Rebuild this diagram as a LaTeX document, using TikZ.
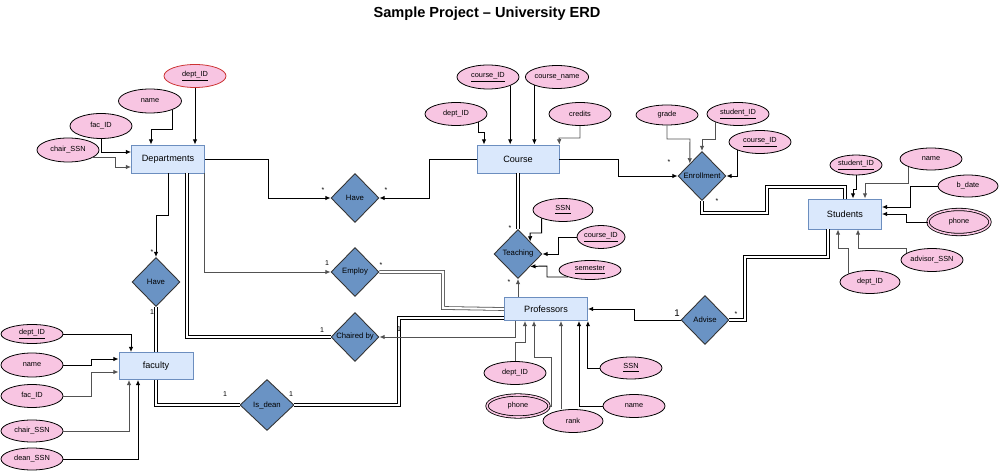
\documentclass[tikz,border=0pt]{standalone}
\usepackage{fontspec}
\setmainfont{Liberation Sans}
\usetikzlibrary{shapes.geometric,arrows.meta}
\definecolor{entfill}{HTML}{DAE8FC}
\definecolor{entline}{HTML}{6C8EBF}
\definecolor{relfill}{HTML}{6A93C4}
\definecolor{attfill}{HTML}{F8C5E2}
\definecolor{keyred}{HTML}{CC3333}
\tikzset{
  ent/.style={rectangle,draw=entline,fill=entfill,line width=0.5pt,inner sep=0pt,
    minimum width=1.46cm,minimum height=0.56cm,font=\fontsize{5.2}{6}\selectfont},
  rel/.style={diamond,draw=black!80,fill=relfill,line width=0.5pt,inner sep=0pt,
    minimum width=0.96cm,minimum height=0.98cm,font=\fontsize{4.4}{5}\selectfont},
  att/.style={ellipse,draw=black,fill=attfill,line width=0.45pt,inner sep=0pt,
    minimum width=1.24cm,minimum height=0.46cm,font=\fontsize{4.2}{5}\selectfont},
  multi/.style={att,double=attfill,double distance=0.9pt},
  arr/.style={-{Latex[length=3pt,width=2.6pt]},line width=0.55pt},
  gry/.style={draw=black!68},
  dbl/.style={double,double distance=1.2pt,line width=0.45pt},
  mult/.style={inner sep=0pt,font=\fontsize{4}{5}\selectfont}
}
\begin{document}
\begin{tikzpicture}[x=0.02cm,y=-0.02cm]
\useasboundingbox (0,0) rectangle (1000,472);
\node[font=\fontsize{8.3}{10}\selectfont\bfseries] (title) at (487,14) {Sample Project – University ERD};

\node[ent] (dep) at (168,159) {Departments};
\node[ent,minimum width=1.64cm] (course) at (518,159) {Course};
\node[ent,minimum height=0.6cm] (stud) at (845,214) {Students};
\node[ent,minimum width=1.66cm,minimum height=0.46cm] (prof) at (546,309) {Professors};
\node[ent,minimum width=1.48cm,minimum height=0.54cm] (fac) at (156,366) {faculty};

\node[rel] (haveA) at (355,198) {Have};
\node[rel] (employ) at (355,272) {Employ};
\node[rel] (chair) at (355,337) {Chaired by};
\node[rel] (haveB) at (156,282) {Have};
\node[rel,minimum width=1.08cm,minimum height=1.02cm] (isdean) at (267,405) {Is\_dean};
\node[rel] (teach) at (518,254) {Teaching};
\node[rel] (enroll) at (702,176) {Enrollment};
\node[rel] (advise) at (705,320) {Advise};

\node[att,draw=keyred] (depID) at (195,76) {\underline{dept\_ID}};
\node[att,minimum width=1.26cm,minimum height=0.48cm] (depName) at (150,101) {name};
\node[att,minimum height=0.5cm] (depFac) at (101,126) {fac\_ID};
\node[att,minimum height=0.48cm] (depChair) at (68,150) {chair\_SSN};
\node[att,minimum height=0.48cm] (crsID) at (488,77) {\underline{course\_ID}};
\node[att] (crsName) at (557,77) {course\_name};
\node[att] (crsDept) at (456,114) {dept\_ID};
\node[att] (crsCred) at (580,114) {credits};
\node[att,minimum height=0.4cm] (enGrade) at (667,115) {grade};
\node[att] (enStud) at (738,114) {\underline{student\_ID}};
\node[att] (enCrs) at (760,142) {\underline{course\_ID}};
\node[att,minimum width=1.04cm,minimum height=0.4cm] (stID) at (856,165) {\underline{student\_ID}};
\node[att,minimum height=0.44cm] (stName) at (931,159) {name};
\node[att,minimum width=1.2cm,minimum height=0.44cm] (stDate) at (968,186) {b\_date};
\node[multi,minimum height=0.5cm] (stPhone) at (959,222) {phone};
\node[att] (stAdv) at (932,260) {advisor\_SSN};
\node[att,minimum width=1.2cm] (stDept) at (870,282) {dept\_ID};
\node[att,minimum width=1.2cm] (tSSN) at (563,210) {\underline{SSN}};
\node[att,minimum width=0.96cm] (tCrs) at (601,237) {\underline{course\_ID}};
\node[att,minimum height=0.38cm] (tSem) at (590,270) {\underline{semester}};
\node[att] (pDept) at (515,373) {dept\_ID};
\node[multi,minimum height=0.44cm] (pPhone) at (518,406) {phone};
\node[att,minimum width=1.2cm] (pRank) at (573,421) {rank};
\node[att,minimum height=0.44cm] (pSSN) at (631,368) {\underline{SSN}};
\node[att] (pName) at (634,406) {name};
\node[att,minimum height=0.38cm] (fDept) at (32,334) {\underline{dept\_ID}};
\node[att,minimum height=0.48cm] (fName) at (32,365) {name};
\node[att] (fFac) at (32,396) {fac\_ID};
\node[att,minimum height=0.44cm] (fChair) at (32,431) {chair\_SSN};
\node[att,minimum height=0.44cm] (fDean) at (32,459) {dean\_SSN};

\draw[arr] (depID.south) -- (depID.south |- dep.north);
\draw[arr] (depName.south east) |- (151,129) -- (151,0 |- dep.north);
\draw[arr] (depFac.south) |- (dep.west |- 0,152);
\draw[arr,gry] (depChair.-18) -| (115,167) -- (dep.west |- 0,167);

\draw[arr] (crsID.south east) -- (crsID.south east |- course.north);
\draw[arr] (crsName.south west) -- (crsName.south west |- course.north);
\draw[arr] (crsDept.south east) |- (484,132) -- (484,0 |- course.north);
\draw[arr,gry] (crsCred.south) |- (559,138) -- (course.north east);

\draw[arr,gry] (enGrade.south) |- (690,139) -- (enroll.north west);
\draw[arr,gry] (enStud.south west) |- (702,139) -- (enroll.north);
\draw[arr] (enCrs.south west) |- (enroll.east);
\draw[arr] (course.east) -| (618,176) -- (enroll.west);
\draw[dbl] (enroll.south) |- (767,213) -- (767,187) -| (stud.north);

\draw[arr] (stID.south) |- (853,189) -- (853,0 |- stud.north);
\draw[arr,gry] (stName.south west) |- (865,183) -- (865,0 |- stud.north);
\draw[arr] (stDate.west) -| (910,207) -- (stud.east |- 0,207);
\draw[arr] (stPhone.west) -| (906,214) -- (stud.east);
\draw[arr,gry] (stAdv.165) |- (858,248) -- (858,0 |- stud.south);
\draw[arr,gry] (stDept.north west) |- (838,248) -- (838,0 |- stud.south);

\draw[dbl] (stud.south -| 828,0) |- (745,257) |- (advise.east);
\draw[arr] (advise.west) -| (634,309) -- (prof.east);

\draw[arr,gry] (pDept.north) |- (525,342) -- (525,0 |- prof.south);
\draw[arr,gry] (pPhone.east) -| (551,357) -| (534,0 |- prof.south);
\draw[arr,gry] (pRank.north -| 561,0) -- (561,0 |- prof.south);
\draw[arr] (pSSN.west) -| (prof.south east);
\draw[arr] (pName.west) -| (579,0 |- prof.south);

\draw[dbl] (course.south) -- (teach.north);
\draw[arr,gry] (teach.south |- prof.north) -- (teach.south);
\draw[arr] (tSSN.south west) |- (530,233) -- (teach.north east);
\draw[arr] (tCrs.west) -| (558,254) -- (teach.east);
\draw[arr] (tSem.south west) -| (547,266) -- (teach.south east);

\draw[arr] (fDept.east) -| (131,0 |- fac.north);
\draw[arr] (fName.east) -| (91,359) -- (fac.west |- 0,359);
\draw[arr,gry] (fFac.east) -| (91,372) -- (fac.west |- 0,372);
\draw[arr,gry] (fChair.east) -| (129,0 |- fac.south);
\draw[arr] (fDean.east) -| (138,0 |- fac.south);

\draw[arr] (dep.east) -| (268,198) -- (haveA.west);
\draw[arr] (course.west) -| (429,198) -- (haveA.east);
\draw[arr] (dep.south) |- (156,215) -- (haveB.north);
\draw[dbl] (haveB.south) -- (fac.north);
\draw[dbl] (fac.south) |- (isdean.west);
\draw[dbl] (isdean.east) -| (399,318) -- (prof.west |- 0,318);
\draw[dbl] (dep.south -| 187,0) |- (chair.west);
\draw[arr,gry] (prof.south -| 515,0) |- (chair.east);
\draw[arr,gry] (dep.south east) |- (employ.west);
\draw[dbl,gry] (employ.east) -| (443,308) -- (prof.west);

\node[mult] at (323,190) {*};
\node[mult] at (386,190) {*};
\node[mult] at (152,252) {*};
\node[mult] at (152,312) {1};
\node[mult] at (225,394) {1};
\node[mult] at (291,394) {1};
\node[mult] at (322,330) {1};
\node[mult] at (399,329) {1};
\node[mult] at (327,263) {1};
\node[mult] at (381,265) {*};
\node[mult] at (510,228) {*};
\node[mult] at (509,282) {*};
\node[mult] at (669,162) {*};
\node[mult] at (717,201) {*};
\node[mult] at (736,314) {*};
\node[mult,font=\fontsize{5.5}{6}\selectfont] at (677,313) {1};
\end{tikzpicture}
\end{document}
